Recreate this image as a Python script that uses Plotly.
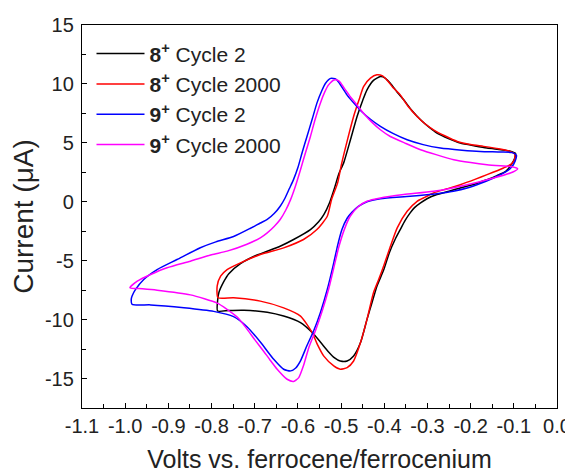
import plotly.graph_objects as go

# ---- data (V vs Fc/Fc+, current in uA) ----
black_x = [-0.786, -0.786, -0.783, -0.772, -0.760, -0.733, -0.700, -0.671, -0.640, -0.610, -0.571, -0.552, -0.540, -0.527, -0.515, -0.505, -0.494, -0.478, -0.463, -0.450, -0.440, -0.425, -0.409, -0.398, -0.386, -0.370, -0.355, -0.336, -0.316, -0.297, -0.278, -0.250, -0.224, -0.190, -0.162, -0.130, -0.108, -0.096,
           -0.098, -0.104, -0.118, -0.140, -0.162, -0.190, -0.224, -0.250, -0.278, -0.300, -0.316, -0.330, -0.340, -0.352, -0.363, -0.375, -0.388, -0.401, -0.417, -0.428, -0.440, -0.455, -0.471, -0.486, -0.502, -0.515, -0.530, -0.548, -0.567, -0.594, -0.633, -0.671, -0.725, -0.760, -0.786]
black_y = [-9.27, -8.4, -7.7, -6.8, -6.1, -5.25, -4.6, -4.2, -3.75, -3.2, -2.36, -1.7, -1.1, -0.1, 1.2, 2.4, 3.3, 5.3, 7.24, 8.6, 9.5, 10.3, 10.62, 10.5, 10.06, 9.3, 8.65, 7.75, 6.96, 6.35, 5.83, 5.35, 4.98, 4.74, 4.56, 4.42, 4.3, 4.1,
           3.7, 3.25, 2.6, 2.2, 1.88, 1.5, 1.17, 0.9, 0.61, 0.28, -0.1, -0.5, -0.94, -1.6, -2.36, -3.2, -4.3, -5.75, -7.16, -8.5, -9.98, -11.95, -13.09, -13.51, -13.51, -13.25, -12.7, -11.9, -11.1, -10.26, -9.70, -9.37, -9.2, -9.22, -9.27]

red_x = [-0.785, -0.787, -0.779, -0.764, -0.733, -0.687, -0.633, -0.587, -0.556, -0.532, -0.522, -0.508, -0.499, -0.485, -0.471, -0.458, -0.448, -0.432, -0.417, -0.405, -0.394, -0.380, -0.363, -0.345, -0.324, -0.305, -0.286, -0.260, -0.231, -0.200, -0.170, -0.135, -0.110, -0.098,
         -0.098, -0.106, -0.124, -0.162, -0.190, -0.224, -0.255, -0.286, -0.305, -0.324, -0.347, -0.370, -0.386, -0.401, -0.413, -0.425, -0.440, -0.455, -0.471, -0.486, -0.502, -0.517, -0.540, -0.555, -0.567, -0.594, -0.633, -0.687, -0.749, -0.785]
red_y = [-8.14, -7.16, -6.31, -5.75, -5.18, -4.48, -3.91, -3.20, -2.36, -1.23, 0.2, 1.6, 3.2, 5.3, 7.24, 8.7, 9.78, 10.49, 10.77, 10.7, 10.34, 9.7, 9.07, 8.1, 7.24, 6.6, 6.11, 5.6, 5.12, 4.85, 4.70, 4.5, 4.3, 4.05,
         3.6, 3.2, 2.87, 2.30, 1.9, 1.45, 1.1, 0.75, 0.4, 0.04, -0.81, -2.21, -3.8, -5.4, -6.6, -7.72, -9.98, -11.95, -13.51, -14.07, -14.21, -13.93, -13.1, -12.1, -11.1, -9.7, -9.0, -8.43, -8.14, -8.14]

blue_x = [-0.984, -0.986, -0.984, -0.976, -0.957, -0.926, -0.880, -0.826, -0.790, -0.749, -0.710, -0.687, -0.671, -0.655, -0.641, -0.630, -0.620, -0.610, -0.600, -0.590, -0.579, -0.567, -0.556, -0.545, -0.536, -0.524, -0.512, -0.500, -0.486, -0.470, -0.455, -0.432, -0.409, -0.380, -0.347, -0.310, -0.270, -0.220, -0.178, -0.130, -0.104, -0.094,
          -0.097, -0.105, -0.118, -0.147, -0.178, -0.208, -0.240, -0.278, -0.340, -0.409, -0.440, -0.460, -0.475, -0.486, -0.498, -0.508, -0.517, -0.532, -0.548, -0.563, -0.579, -0.594, -0.605, -0.617, -0.633, -0.656, -0.687, -0.718, -0.749, -0.795, -0.864, -0.941, -0.984]
blue_y = [-8.71, -8.3, -8.0, -7.44, -6.59, -5.75, -4.90, -3.9, -3.4, -2.95, -2.25, -1.8, -1.5, -1.0, -0.38, 0.3, 1.1, 1.9, 2.9, 4.2, 5.54, 7.0, 8.37, 9.4, 10.06, 10.47, 10.4, 9.85, 9.05, 8.35, 7.75, 7.0, 6.4, 5.8, 5.26, 4.85, 4.56, 4.38, 4.27, 4.22, 4.17, 3.95,
          3.45, 2.95, 2.55, 2.02, 1.55, 1.17, 0.9, 0.69, 0.46, 0.25, 0.0, -0.4, -0.9, -1.4, -2.36, -3.7, -5.18, -7.44, -9.41, -10.9, -12.2, -13.5, -14.1, -14.35, -14.21, -13.37, -11.9, -10.6, -9.75, -9.3, -8.99, -8.75, -8.71]

mag_x = [-0.989, -0.972, -0.941, -0.903, -0.849, -0.800, -0.764, -0.718, -0.687, -0.671, -0.655, -0.641, -0.628, -0.617, -0.606, -0.594, -0.583, -0.571, -0.560, -0.548, -0.538, -0.529, -0.516, -0.505, -0.492, -0.479, -0.463, -0.448, -0.430, -0.409, -0.386, -0.350, -0.316, -0.280, -0.239, -0.200, -0.162, -0.130, -0.104, -0.091,
         -0.098, -0.108, -0.147, -0.208, -0.286, -0.355, -0.409, -0.440, -0.460, -0.479, -0.492, -0.505, -0.513, -0.528, -0.544, -0.559, -0.575, -0.587, -0.598, -0.610, -0.625, -0.648, -0.665, -0.679, -0.700, -0.720, -0.740, -0.765, -0.787, -0.849, -0.926, -0.960, -0.989]
mag_y = [-7.30, -6.74, -6.17, -5.60, -5.04, -4.5, -4.19, -3.6, -3.06, -2.64, -2.1, -1.51, -0.7, 0.18, 1.3, 2.72, 4.1, 5.54, 7.0, 8.37, 9.3, 9.92, 10.34, 10.25, 9.6, 8.93, 8.2, 7.52, 6.8, 6.11, 5.54, 4.95, 4.42, 4.0, 3.57, 3.33, 3.15, 3.05, 2.98, 2.8,
         2.6, 2.44, 2.02, 1.45, 0.89, 0.61, 0.32, 0.04, -0.4, -1.23, -2.3, -3.8, -5.0, -7.3, -9.3, -10.9, -12.4, -13.9, -14.92, -15.25, -15.06, -14.21, -13.4, -12.7, -11.7, -10.7, -9.8, -9.1, -8.6, -7.9, -7.5, -7.38, -7.30]

series_names = ["<b>8</b><sup><b>+</b></sup> Cycle 2", "<b>8</b><sup><b>+</b></sup> Cycle 2000",
                "<b>9</b><sup><b>+</b></sup> Cycle 2", "<b>9</b><sup><b>+</b></sup> Cycle 2000"]
series_colors = ["#000000", "#ff0000", "#0000ff", "#ff00ff"]

x_tickvals = [-1.1, -1.0, -0.9, -0.8, -0.7, -0.6, -0.5, -0.4, -0.3, -0.2, -0.1, 0.0]
x_ticktext = ["-1.1", "-1.0", "-0.9", "-0.8", "-0.7", "-0.6", "-0.5", "-0.4", "-0.3", "-0.2", "-0.1", "0.0"]
y_tickvals = [-15, -10, -5, 0, 5, 10, 15]
y_ticktext = ["-15", "-10", "-5", "0", "5", "10", "15"]

FONT = "Liberation Sans, Arial, sans-serif"

fig = go.Figure()
for i, (xs, ys) in enumerate([(black_x, black_y), (red_x, red_y), (blue_x, blue_y), (mag_x, mag_y)]):
    fig.add_trace(go.Scatter(
        x=xs, y=ys, mode="lines", name=series_names[i],
        line=dict(color=series_colors[i], width=1.5, shape="spline", smoothing=0.6),
        legendgroup=f"g{i}",
    ))

axis_common = dict(
    showline=True, linecolor="black", linewidth=1.3, mirror=True,
    ticks="inside", ticklen=5, tickwidth=1.2, tickcolor="black",
    showgrid=False, zeroline=False, automargin=False,
    tickfont=dict(family=FONT, size=20, color="#222"),
)

# the page body adds an 8px offset, so the figure is sized to fit the 573x473 window
fig.update_layout(
    width=565, height=465,
    margin=dict(l=74, r=16, t=17, b=65),
    paper_bgcolor="white", plot_bgcolor="white",
    font=dict(family=FONT, color="#222"),
    showlegend=True,
    legend=dict(
        x=0.02, y=0.978, xanchor="left", yanchor="top",
        bgcolor="rgba(0,0,0,0)", borderwidth=0,
        font=dict(family=FONT, size=21, color="#222"),
        traceorder="grouped", tracegroupgap=0, itemwidth=48,
    ),
    xaxis=dict(
        range=[-1.1, 0.0], tickmode="array", tickvals=x_tickvals, ticktext=x_ticktext,
        minor=dict(tickmode="linear", tick0=-1.1, dtick=0.05, ticks="inside", ticklen=4, tickwidth=1.1, tickcolor="black"),
        title=dict(text="Volts vs. ferrocene/ferrocenium", font=dict(family=FONT, size=25, color="#222"), standoff=14),
        ticklabelstandoff=0,
        **axis_common,
    ),
    yaxis=dict(
        range=[-17.5, 15], tickmode="array", tickvals=y_tickvals, ticktext=y_ticktext,
        minor=dict(tickmode="linear", tick0=0, dtick=2.5, ticks="inside", ticklen=4, tickwidth=1.1, tickcolor="black"),
        title=dict(text="Current (μA)", font=dict(family=FONT, size=28, color="#222"), standoff=8),
        ticklabelstandoff=3,
        **axis_common,
    ),
)

fig.write_html("out.html")
